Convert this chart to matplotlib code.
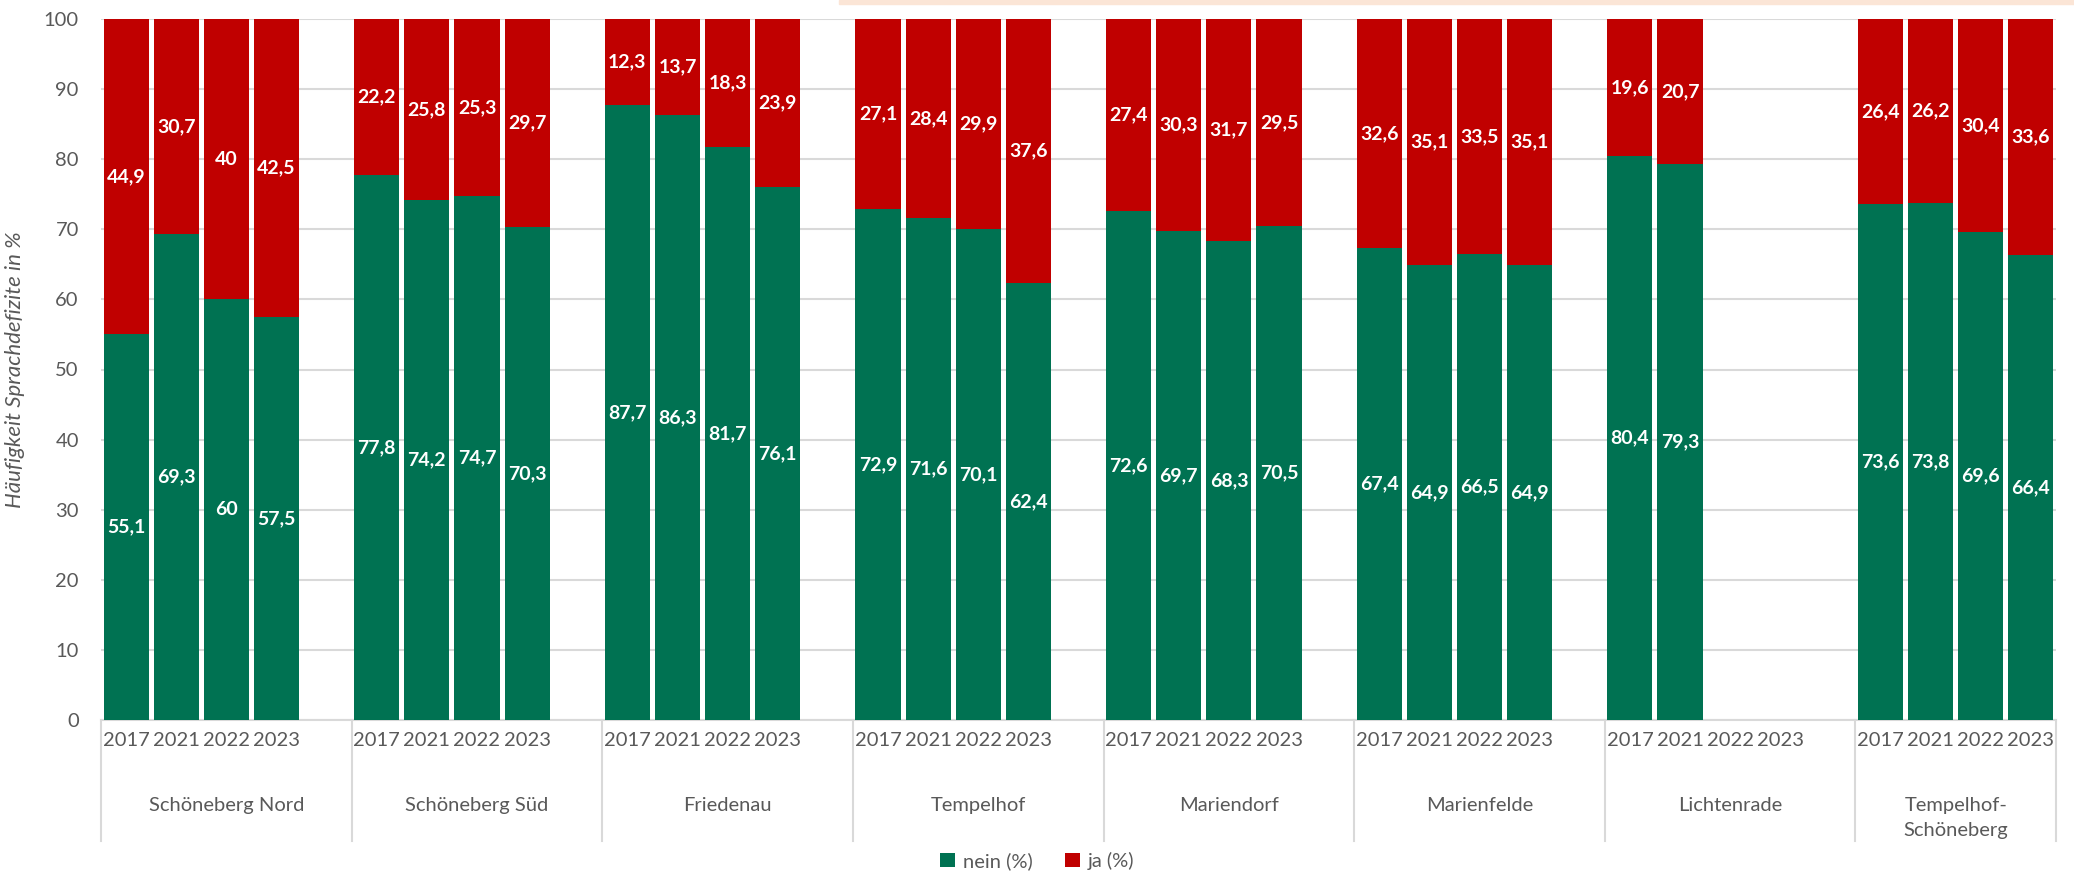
import numpy as np
import matplotlib.pyplot as plt
from matplotlib.patches import Rectangle
from matplotlib.transforms import blended_transform_factory

plt.rcParams['font.family'] = ['Lato', 'DejaVu Sans']

# Data
groups = ['Schöneberg Nord', 'Schöneberg Süd', 'Friedenau', 'Tempelhof',
          'Mariendorf', 'Marienfelde', 'Lichtenrade', 'Tempelhof-\nSchöneberg']
years = ['2017', '2021', '2022', '2023']

nein = [
    [55.1, 69.3, 60, 57.5],
    [77.8, 74.2, 74.7, 70.3],
    [87.7, 86.3, 81.7, 76.1],
    [72.9, 71.6, 70.1, 62.4],
    [72.6, 69.7, 68.3, 70.5],
    [67.4, 64.9, 66.5, 64.9],
    [80.4, 79.3, np.nan, np.nan],
    [73.6, 73.8, 69.6, 66.4],
]
ja = [
    [44.9, 30.7, 40, 42.5],
    [22.2, 25.8, 25.3, 29.7],
    [12.3, 13.7, 18.3, 23.9],
    [27.1, 28.4, 29.9, 37.6],
    [27.4, 30.3, 31.7, 29.5],
    [32.6, 35.1, 33.5, 35.1],
    [19.6, 20.7, np.nan, np.nan],
    [26.4, 26.2, 30.4, 33.6],
]

green = '#007252'
red = '#C00000'
grey = '#595959'
gridc = '#D9D9D9'

def fmt(v):
    return f"{v:g}".replace('.', ',')

# slot positions: 4 years per group plus one empty slot between groups
pos, tick_lab, n_vals, j_vals = [], [], [], []
for g in range(len(groups)):
    for j, y in enumerate(years):
        pos.append(g * 5 + j)
        tick_lab.append(y)
        n_vals.append(nein[g][j])
        j_vals.append(ja[g][j])
pos = np.array(pos, dtype=float)
n_vals = np.array(n_vals)
j_vals = np.array(j_vals)
ok = ~np.isnan(n_vals)

fig = plt.figure(figsize=(20.74, 8.75), dpi=100)
ax = fig.add_axes([101 / 2074, 155 / 875, 1955 / 2074, 701 / 875])

b1 = ax.bar(pos[ok], n_vals[ok], width=0.9, color=green, label='nein (%)', zorder=3)
b2 = ax.bar(pos[ok], j_vals[ok], width=0.9, bottom=n_vals[ok], color=red,
            label='ja (%)', zorder=3)
ax.bar_label(b1, labels=[fmt(v) for v in n_vals[ok]], label_type='center',
             color='white', fontweight='bold', fontsize=14)
ax.bar_label(b2, labels=[fmt(v) for v in j_vals[ok]], label_type='center',
             color='white', fontweight='bold', fontsize=14)

last = (len(groups) - 1) * 5 + 3
ax.set_xlim(-0.5, last + 0.5)
ax.set_ylim(0, 100)
ax.set_yticks(range(0, 101, 10))
ax.yaxis.grid(True, color=gridc, linewidth=1.5, zorder=0)
ax.set_axisbelow(True)
for s in ['top', 'right', 'left']:
    ax.spines[s].set_visible(False)
ax.spines['bottom'].set_color(gridc)
ax.spines['bottom'].set_linewidth(1.5)
ax.tick_params(axis='y', length=0, pad=16, labelsize=14.5, labelcolor=grey)

ax.set_xticks(pos, tick_lab)
ax.tick_params(axis='x', length=0, pad=9, labelsize=14.5, labelcolor=grey)

ax.set_ylabel('Häufigkeit Sprachdefizite in %', fontsize=16, color=grey,
              style='italic')
ax.yaxis.set_label_coords(-0.039, 0.5)

# group dividers and names
tr = blended_transform_factory(ax.transData, ax.transAxes)
edges = [g * 5 - 0.5 for g in range(len(groups))] + [last + 0.5]
for e in edges:
    ax.plot([e, e], [0, -0.173], transform=tr, color=gridc, linewidth=1.5,
            clip_on=False)
for g, name in enumerate(groups):
    c = (edges[g] + edges[g + 1]) / 2
    ax.text(c, -0.11, name, transform=tr, ha='center', va='top',
            fontsize=14.5, color=grey, linespacing=1.55)

fig.legend(handles=[b1, b2], loc='center', bbox_to_anchor=(0.5, 14 / 875),
           ncol=2, frameon=False, fontsize=14.5, labelcolor=grey,
           handlelength=0.75, handleheight=0.75, handletextpad=0.4,
           columnspacing=1.6)

# thin light strip at the top edge
fig.patches.append(Rectangle((839 / 2074, 871 / 875), 1 - 839 / 2074, 4 / 875,
                             transform=fig.transFigure, color='#FBE5D6',
                             zorder=0))

fig.savefig('out.png', dpi=100)
